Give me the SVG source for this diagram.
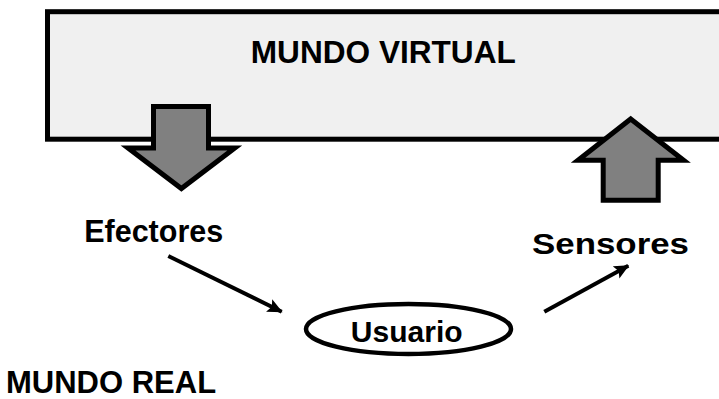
<svg xmlns="http://www.w3.org/2000/svg" width="719" height="399" viewBox="0 0 719 399">
  <style>
    .lbl { font-family: "Liberation Sans", Arial, sans-serif; font-weight: bold; fill: #000; }
    .block { fill: #808080; stroke: #000; stroke-width: 5; stroke-linejoin: miter; }
    .conn { stroke: #000; stroke-width: 4; fill: none; }
  </style>
  <defs>
    <marker id="ah" markerUnits="userSpaceOnUse" markerWidth="20" markerHeight="16" refX="14" refY="7" orient="auto" viewBox="0 0 20 16">
      <path d="M0,0 L15,7 L0,14 L3,7 Z" fill="#000"/>
    </marker>
  </defs>
  <rect width="719" height="399" fill="#fff"/>
  <g id="mundo-virtual">
    <rect x="47.5" y="11.7" width="700" height="127.5" fill="#f0f0f0" stroke="#000" stroke-width="5"/>
    <text class="lbl" x="383.3" y="63.3" font-size="31.6" text-anchor="middle">MUNDO VIRTUAL</text>
  </g>
  <g id="arrow-down">
    <path class="block" d="M153.5,106.5 L208.5,106.5 L208.5,148 L234.8,148 L181.4,188.6 L128,148 L153.5,148 Z"/>
  </g>
  <g id="arrow-up">
    <path class="block" d="M630.7,119 L683.6,160.2 L658.2,160.2 L658.2,200.2 L603.2,200.2 L603.2,160.2 L578,160.2 Z"/>
  </g>
  <g id="efectores">
    <text class="lbl" x="153.7" y="241.7" font-size="30.5" text-anchor="middle">Efectores</text>
  </g>
  <g id="sensores">
    <text class="lbl" x="532" y="253.5" font-size="29.5" textLength="157" lengthAdjust="spacingAndGlyphs">Sensores</text>
  </g>
  <g id="usuario">
    <ellipse cx="408.5" cy="329" rx="102.5" ry="25" fill="#fff" stroke="#000" stroke-width="4.5"/>
    <text class="lbl" x="406.7" y="341.5" font-size="30" text-anchor="middle">Usuario</text>
  </g>
  <g id="mundo-real">
    <text class="lbl" x="6" y="393" font-size="31">MUNDO REAL</text>
  </g>
  <g id="connectors">
    <line class="conn" x1="168.3" y1="256" x2="281.7" y2="311.7" marker-end="url(#ah)"/>
    <line class="conn" x1="544.3" y1="311.7" x2="628.3" y2="265.7" marker-end="url(#ah)"/>
  </g>
</svg>
